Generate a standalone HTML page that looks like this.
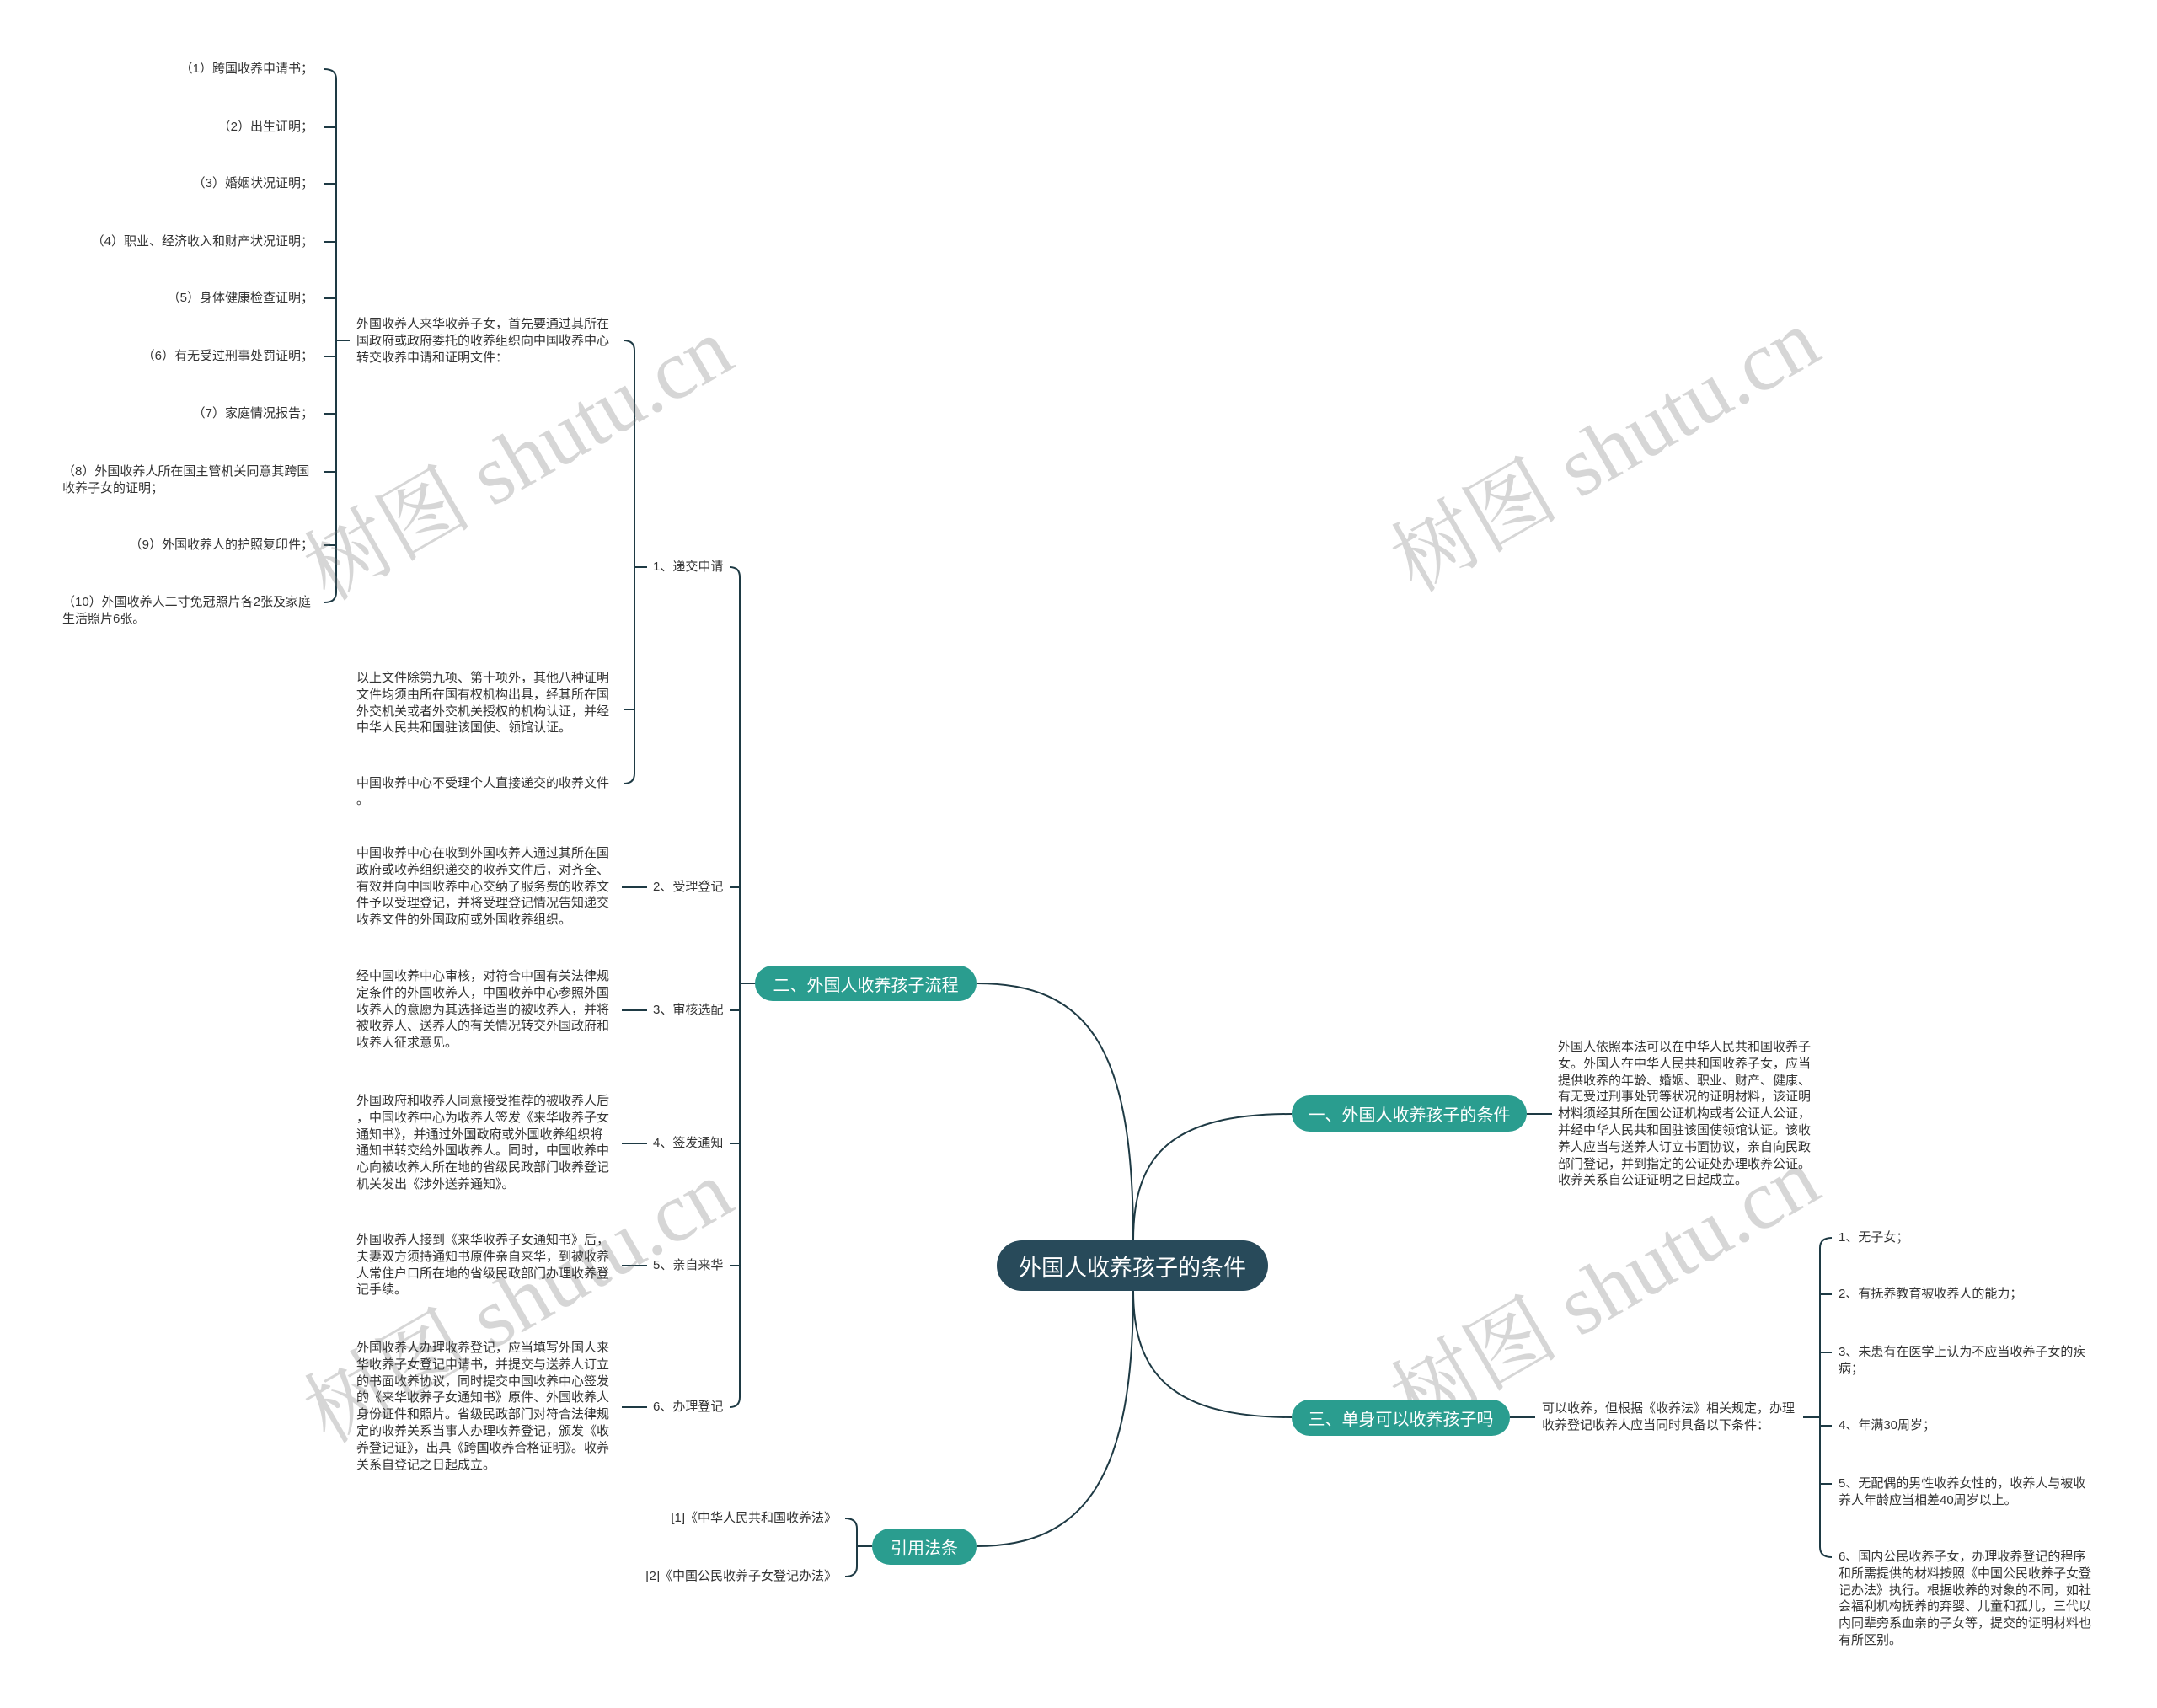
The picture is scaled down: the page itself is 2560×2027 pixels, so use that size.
<!DOCTYPE html>
<html><head><meta charset="utf-8">
<style>
body{margin:0;width:2560px;height:2027px;background:#fff;position:relative;overflow:hidden;font-family:"Liberation Sans","Noto Sans CJK SC",sans-serif;}
.t{position:absolute;font-size:15px;line-height:19.8px;color:#333;}
.r{text-align:right;}
.node{position:absolute;border-radius:22px;background:#2a9d8f;color:#fff;font-size:20px;display:flex;align-items:center;justify-content:center;}
.wm{position:absolute;font-family:"Liberation Serif","Noto Serif CJK SC",serif;font-size:100px;color:rgba(120,120,120,0.3);transform:rotate(-30deg);white-space:nowrap;transform-origin:center;}
</style></head><body>
<svg width="2560" height="2027" style="position:absolute;left:0;top:0" fill="none" stroke="#1e3a44" stroke-width="2">
<path d="M1345,1472 C1345,1240 1290,1167 1159,1167"/>
<path d="M1345,1472 C1345,1370 1390,1322 1533,1322"/>
<path d="M1345,1532 C1345,1630 1390,1682 1533,1682"/>
<path d="M1345,1532 C1345,1750 1290,1835 1159,1835"/>
<path d="M899,1167 H878"/>
<path d="M866,673 Q878,673 878,685 V1658 Q878,1670 866,1670"/>
<path d="M878,1053 H866 M878,1199 H866 M878,1357 H866 M878,1502 H866"/>
<path d="M738,1053 H768 M738,1199 H768 M738,1357 H768 M738,1502 H768 M738,1670 H768"/>
<path d="M768,673 H753"/>
<path d="M740,404 Q753,404 753,416 V918 Q753,930 740,930"/>
<path d="M753,842 H740"/>
<path d="M415,404 H399"/>
<path d="M385,82 Q399,82 399,94 V703 Q399,715 385,715"/>
<path d="M399,151 H385 M399,218 H385 M399,287 H385 M399,354 H385 M399,423 H385 M399,491 H385 M399,560 H385 M399,647 H385"/>
<path d="M1035,1835 H1017"/>
<path d="M1003,1802 Q1017,1802 1017,1814 V1859 Q1017,1871 1003,1871"/>
<path d="M1812,1322 H1842"/>
<path d="M1792,1682 H1822"/>
<path d="M2140,1682 H2160"/>
<path d="M2174,1469 Q2160,1469 2160,1481 V1836 Q2160,1848 2174,1848"/>
<path d="M2160,1536 H2174 M2160,1605 H2174 M2160,1692 H2174 M2160,1761 H2174"/>
</svg>

<div class="wm" style="left:330px;top:465px">树图 shutu.cn</div>
<div class="wm" style="left:1620px;top:455px">树图 shutu.cn</div>
<div class="wm" style="left:330px;top:1465px">树图 shutu.cn</div>
<div class="wm" style="left:1620px;top:1450px">树图 shutu.cn</div>

<div class="node" style="left:1183px;top:1472px;width:322px;height:60px;border-radius:30px;background:#284a5a;font-size:27px;">外国人收养孩子的条件</div>
<div class="node" style="left:896px;top:1146px;width:263px;height:42px;">二、外国人收养孩子流程</div>
<div class="node" style="left:1533px;top:1300px;width:279px;height:43px;">一、外国人收养孩子的条件</div>
<div class="node" style="left:1533px;top:1661px;width:259px;height:43px;">三、单身可以收养孩子吗</div>
<div class="node" style="left:1035px;top:1814px;width:124px;height:43px;">引用法条</div>

<div class="t r" style="left:74px;width:298px;top:72px">（1）跨国收养申请书；</div>
<div class="t r" style="left:74px;width:298px;top:141px">（2）出生证明；</div>
<div class="t r" style="left:74px;width:298px;top:208px">（3）婚姻状况证明；</div>
<div class="t r" style="left:74px;width:298px;top:277px">（4）职业、经济收入和财产状况证明；</div>
<div class="t r" style="left:74px;width:298px;top:344px">（5）身体健康检查证明；</div>
<div class="t r" style="left:74px;width:298px;top:413px">（6）有无受过刑事处罚证明；</div>
<div class="t r" style="left:74px;width:298px;top:481px">（7）家庭情况报告；</div>
<div class="t" style="left:74px;width:300px;top:550px">（8）外国收养人所在国主管机关同意其跨国<br>收养子女的证明；</div>
<div class="t r" style="left:74px;width:298px;top:637px">（9）外国收养人的护照复印件；</div>
<div class="t" style="left:74px;width:310px;top:705px">（10）外国收养人二寸免冠照片各2张及家庭<br>生活照片6张。</div>

<div class="t" style="left:423px;width:312px;top:375px">外国收养人来华收养子女，首先要通过其所在国政府或政府委托的收养组织向中国收养中心转交收养申请和证明文件：</div>
<div class="t" style="left:423px;width:312px;top:795px">以上文件除第九项、第十项外，其他八种证明文件均须由所在国有权机构出具，经其所在国外交机关或者外交机关授权的机构认证，并经中华人民共和国驻该国使、领馆认证。</div>
<div class="t" style="left:423px;width:320px;top:920px">中国收养中心不受理个人直接递交的收养文件<br>。</div>

<div class="t" style="left:775px;top:663px">1、递交申请</div>
<div class="t" style="left:775px;top:1043px">2、受理登记</div>
<div class="t" style="left:775px;top:1189px">3、审核选配</div>
<div class="t" style="left:775px;top:1347px">4、签发通知</div>
<div class="t" style="left:775px;top:1492px">5、亲自来华</div>
<div class="t" style="left:775px;top:1660px">6、办理登记</div>

<div class="t" style="left:423px;width:312px;top:1003px">中国收养中心在收到外国收养人通过其所在国政府或收养组织递交的收养文件后，对齐全、有效并向中国收养中心交纳了服务费的收养文件予以受理登记，并将受理登记情况告知递交收养文件的外国政府或外国收养组织。</div>
<div class="t" style="left:423px;width:312px;top:1149px">经中国收养中心审核，对符合中国有关法律规定条件的外国收养人，中国收养中心参照外国收养人的意愿为其选择适当的被收养人，并将被收养人、送养人的有关情况转交外国政府和收养人征求意见。</div>
<div class="t" style="left:423px;width:330px;top:1297px">外国政府和收养人同意接受推荐的被收养人后<br>，中国收养中心为收养人签发《来华收养子女<br>通知书》，并通过外国政府或外国收养组织将<br>通知书转交给外国收养人。同时，中国收养中<br>心向被收养人所在地的省级民政部门收养登记<br>机关发出《涉外送养通知》。</div>
<div class="t" style="left:423px;width:312px;top:1462px">外国收养人接到《来华收养子女通知书》后，夫妻双方须持通知书原件亲自来华，到被收养人常住户口所在地的省级民政部门办理收养登记手续。</div>
<div class="t" style="left:423px;width:312px;top:1590px">外国收养人办理收养登记，应当填写外国人来华收养子女登记申请书，并提交与送养人订立的书面收养协议，同时提交中国收养中心签发的《来华收养子女通知书》原件、外国收养人身份证件和照片。省级民政部门对符合法律规定的收养关系当事人办理收养登记，颁发《收养登记证》，出具《跨国收养合格证明》。收养关系自登记之日起成立。</div>

<div class="t r" style="left:700px;width:293px;top:1792px">[1]《中华人民共和国收养法》</div>
<div class="t r" style="left:700px;width:293px;top:1861px">[2]《中国公民收养子女登记办法》</div>

<div class="t" style="left:1849px;width:312px;top:1233px">外国人依照本法可以在中华人民共和国收养子女。外国人在中华人民共和国收养子女，应当提供收养的年龄、婚姻、职业、财产、健康、有无受过刑事处罚等状况的证明材料，该证明材料须经其所在国公证机构或者公证人公证，并经中华人民共和国驻该国使领馆认证。该收养人应当与送养人订立书面协议，亲自向民政部门登记，并到指定的公证处办理收养公证。收养关系自公证证明之日起成立。</div>

<div class="t" style="left:1830px;width:312px;top:1662px">可以收养，但根据《收养法》相关规定，办理收养登记收养人应当同时具备以下条件：</div>

<div class="t" style="left:2182px;width:302px;top:1459px">1、无子女；</div>
<div class="t" style="left:2182px;width:302px;top:1526px">2、有抚养教育被收养人的能力；</div>
<div class="t" style="left:2182px;width:302px;top:1595px">3、未患有在医学上认为不应当收养子女的疾病；</div>
<div class="t" style="left:2182px;width:302px;top:1682px">4、年满30周岁；</div>
<div class="t" style="left:2182px;width:302px;top:1751px">5、无配偶的男性收养女性的，收养人与被收<br>养人年龄应当相差40周岁以上。</div>
<div class="t" style="left:2182px;width:302px;top:1838px">6、国内公民收养子女，办理收养登记的程序和所需提供的材料按照《中国公民收养子女登记办法》执行。根据收养的对象的不同，如社会福利机构抚养的弃婴、儿童和孤儿，三代以内同辈旁系血亲的子女等，提交的证明材料也有所区别。</div>
</body></html>
